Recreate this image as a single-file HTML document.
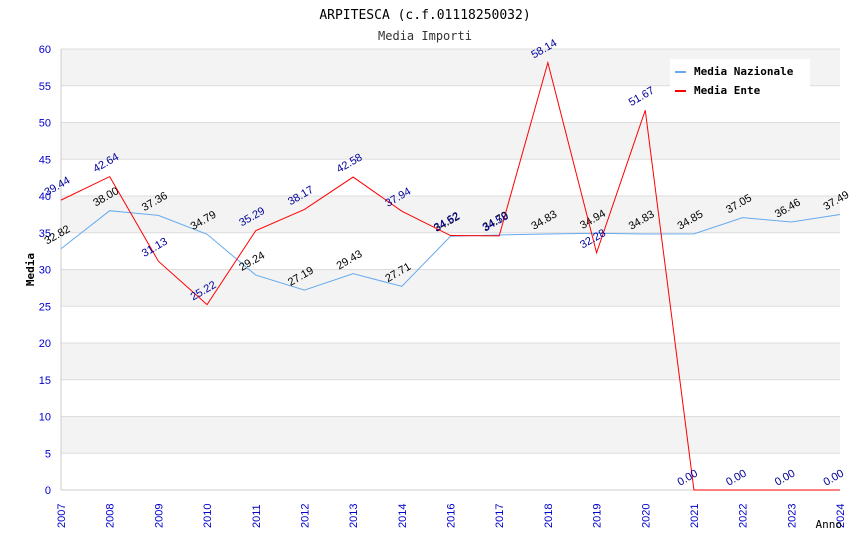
<!DOCTYPE html>
<html><head><meta charset="utf-8"><style>
body{margin:0;background:#fff}
svg text{font-family:"DejaVu Sans Mono","Liberation Mono",monospace}
svg text.s{font-family:"Liberation Sans","DejaVu Sans",sans-serif}
</style></head><body>
<svg id="c" width="850" height="550" xmlns="http://www.w3.org/2000/svg">
<text x="425" y="19" text-anchor="middle" font-size="13" fill="#000">ARPITESCA (c.f.01118250032)</text>
<text x="425" y="40" text-anchor="middle" font-size="12" fill="#333">Media Importi</text>
<g id="plot"></g>
</svg>
<script>
const years=["2007","2008","2009","2010","2011","2012","2013","2014","2016","2017","2018","2019","2020","2021","2022","2023","2024"];
const nazionale=[32.82,38.00,37.36,34.79,29.24,27.19,29.43,27.71,34.52,34.70,34.83,34.94,34.83,34.85,37.05,36.46,37.49];
const ente=[39.44,42.64,31.13,25.22,35.29,38.17,42.58,37.94,34.62,34.58,58.14,32.28,51.67,0,0,0,0];
const yTicks=[0,5,10,15,20,25,30,35,40,45,50,55,60];
const L=61,R=840,T=49,B=490;
const NS="http://www.w3.org/2000/svg";
const g=document.getElementById('plot');
function x(i){return L+i*(R-L)/(years.length-1);}
function y(v){return B-v*(B-T)/60;}
function mk(t,a,p){const e=document.createElementNS(NS,t);for(const k in a)e.setAttribute(k,a[k]);(p||g).appendChild(e);return e;}
for(let i=0;i<yTicks.length-1;i++){
  const r=mk('rect',{x:L,y:y(yTicks[i+1]),width:R-L,height:y(yTicks[i])-y(yTicks[i+1]),fill:(i%2==1)?'#f3f3f3':'#fff'});
  
  
}
yTicks.forEach(v=>{
  const l=mk('line',{x1:L,x2:R,y1:y(v),y2:y(v),stroke:'#ddd'});
  
  
  const t=mk('text',{x:L-10,y:y(v)+4,'text-anchor':'end','font-size':11,fill:'#0000cc',class:'s'});
  t.textContent=v;
  
  
});
mk('line',{x1:L,x2:L,y1:T,y2:B,stroke:'#ccc'});
mk('line',{x1:L,x2:R,y1:B,y2:B,stroke:'#ccc'});
years.forEach((yr,i)=>{
  const t=mk('text',{transform:`translate(${x(i)+4},${B+38}) rotate(-90)`,'font-size':11,fill:'#0000cc',class:'s'});
  t.textContent=yr;
  
  
});
const yt=mk('text',{transform:`translate(34,${(T+B)/2}) rotate(-90)`,'text-anchor':'middle','font-size':11,'font-weight':'bold',fill:'#000'});
yt.textContent='Media';


const xt=mk('text',{x:842,y:528,'text-anchor':'end','font-size':11,fill:'#000'});
xt.textContent='Anno';


function series(vals,color,lc,name){
  const p=mk('polyline',{points:vals.map((v,i)=>x(i)+','+y(v)).join(' '),fill:'none',stroke:color,'stroke-width':1});
  
  
  vals.forEach((v,i)=>{
    const t=mk('text',{transform:`translate(${x(i)-14},${y(v)-4}) rotate(-30)`,'font-size':11,fill:lc,class:'s'});
    t.textContent=v.toFixed(2);
    
    
  });
}
series(nazionale,'#66aaee','#000','nazionale');
series(ente,'#ff0000','#000099','ente');
const lg=mk('g',{});


mk('rect',{x:670,y:59,width:140,height:42,fill:'#fff'},lg);
mk('line',{x1:675,x2:686,y1:72,y2:72,stroke:'#66aaee','stroke-width':2},lg);
mk('line',{x1:675,x2:686,y1:91,y2:91,stroke:'#ff0000','stroke-width':2},lg);
const l1=mk('text',{x:694,y:75,'font-size':11,'font-weight':'bold'},lg);l1.textContent='Media Nazionale';


const l2=mk('text',{x:694,y:94,'font-size':11,'font-weight':'bold'},lg);l2.textContent='Media Ente';


</script>
</body></html>
